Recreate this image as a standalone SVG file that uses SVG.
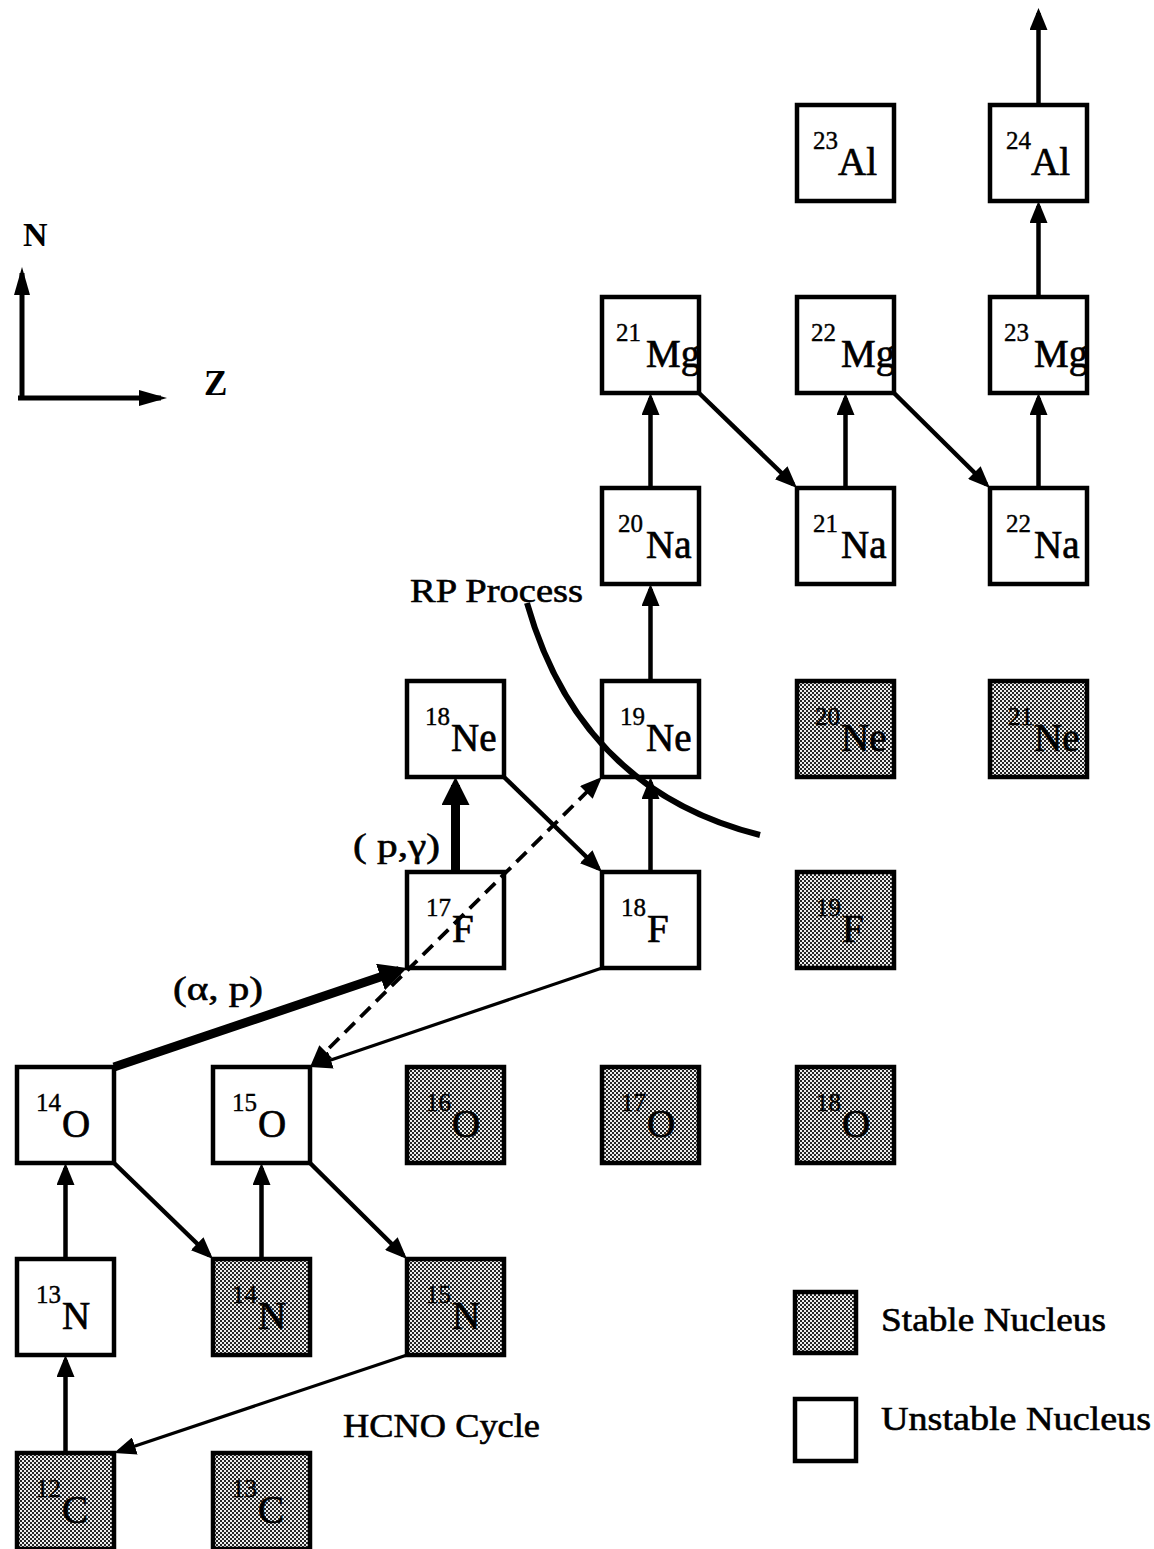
<svg xmlns="http://www.w3.org/2000/svg" width="1154" height="1549" viewBox="0 0 1154 1549">
<style>
.box{stroke:#000;stroke-width:4.5;fill:#fff}
.stable{fill:url(#dither)}
.sup{font-family:"Liberation Serif",serif;font-size:25px;fill:#000;stroke:#000;stroke-width:0.4}
.sym{font-family:"Liberation Serif",serif;font-size:39px;fill:#000;stroke:#000;stroke-width:0.7}
.lbl{font-family:"Liberation Serif",serif;font-size:34px;fill:#000;stroke:#000;stroke-width:0.6}
.ax{font-family:"Liberation Serif",serif;font-weight:bold;fill:#000}
.c{stroke:#000;stroke-width:4.5;fill:none;marker-end:url(#ah)}
.thin{stroke-width:3.2}
.thick{stroke-width:9;marker-end:url(#ahb)}
.dash{stroke-width:3.8;stroke-dasharray:14 8;marker-start:url(#ahd);marker-end:url(#ahd)}
.axis{stroke:#000;stroke-width:5;fill:none;marker-end:url(#aha)}
.rp{stroke:#000;stroke-width:6;fill:none}
</style>
<defs>
<pattern id="dither" width="4" height="4" patternUnits="userSpaceOnUse">
<rect width="4" height="4" fill="#eeeeee"/>
<rect width="2" height="2" fill="#262626"/>
<rect x="2" y="2" width="2" height="2" fill="#262626"/>
</pattern>
<marker id="ah" markerUnits="userSpaceOnUse" markerWidth="22" markerHeight="18" refX="17" refY="9" orient="auto"><path d="M0,0 L22,9 L0,18 z" fill="#000"/></marker>
<marker id="ahd" markerUnits="userSpaceOnUse" markerWidth="22" markerHeight="18" refX="17" refY="9" orient="auto-start-reverse"><path d="M0,0 L22,9 L0,18 z" fill="#000"/></marker>
<marker id="ahb" markerUnits="userSpaceOnUse" markerWidth="28" markerHeight="28" refX="20" refY="14" orient="auto"><path d="M0,0 L28,14 L0,28 z" fill="#000"/></marker>
<marker id="aha" markerUnits="userSpaceOnUse" markerWidth="28" markerHeight="16" refX="22" refY="8" orient="auto"><path d="M0,0 L28,8 L0,16 z" fill="#000"/></marker>
</defs>
<rect width="1154" height="1549" fill="#fff"/>

<g id="n-12C"><rect class="box stable" x="17" y="1453" width="97" height="96"/><text class="sup" x="36" y="1497">12</text><text class="sym" x="62" y="1523">C</text></g>
<g id="n-13C"><rect class="box stable" x="213" y="1453" width="97" height="96"/><text class="sup" x="232" y="1497">13</text><text class="sym" x="258" y="1523">C</text></g>
<g id="n-13N"><rect class="box" x="17" y="1259" width="97" height="96"/><text class="sup" x="36" y="1303">13</text><text class="sym" x="62" y="1329">N</text></g>
<g id="n-14N"><rect class="box stable" x="213" y="1259" width="97" height="96"/><text class="sup" x="232" y="1303">14</text><text class="sym" x="258" y="1329">N</text></g>
<g id="n-15N"><rect class="box stable" x="407" y="1259" width="97" height="96"/><text class="sup" x="426" y="1303">15</text><text class="sym" x="452" y="1329">N</text></g>
<g id="n-14O"><rect class="box" x="17" y="1067" width="97" height="96"/><text class="sup" x="36" y="1111">14</text><text class="sym" x="62" y="1137">O</text></g>
<g id="n-15O"><rect class="box" x="213" y="1067" width="97" height="96"/><text class="sup" x="232" y="1111">15</text><text class="sym" x="258" y="1137">O</text></g>
<g id="n-16O"><rect class="box stable" x="407" y="1067" width="97" height="96"/><text class="sup" x="426" y="1111">16</text><text class="sym" x="452" y="1137">O</text></g>
<g id="n-17O"><rect class="box stable" x="602" y="1067" width="97" height="96"/><text class="sup" x="621" y="1111">17</text><text class="sym" x="647" y="1137">O</text></g>
<g id="n-18O"><rect class="box stable" x="797" y="1067" width="97" height="96"/><text class="sup" x="816" y="1111">18</text><text class="sym" x="842" y="1137">O</text></g>
<g id="n-17F"><rect class="box" x="407" y="872" width="97" height="96"/><text class="sup" x="426" y="916">17</text><text class="sym" x="452" y="942">F</text></g>
<g id="n-18F"><rect class="box" x="602" y="872" width="97" height="96"/><text class="sup" x="621" y="916">18</text><text class="sym" x="647" y="942">F</text></g>
<g id="n-19F"><rect class="box stable" x="797" y="872" width="97" height="96"/><text class="sup" x="816" y="916">19</text><text class="sym" x="842" y="942">F</text></g>
<g id="n-18Ne"><rect class="box" x="407" y="681" width="97" height="96"/><text class="sup" x="425" y="725">18</text><text class="sym" x="451" y="751">Ne</text></g>
<g id="n-19Ne"><rect class="box" x="602" y="681" width="97" height="96"/><text class="sup" x="620" y="725">19</text><text class="sym" x="646" y="751">Ne</text></g>
<g id="n-20Ne"><rect class="box stable" x="797" y="681" width="97" height="96"/><text class="sup" x="815" y="725">20</text><text class="sym" x="841" y="751">Ne</text></g>
<g id="n-21Ne"><rect class="box stable" x="990" y="681" width="97" height="96"/><text class="sup" x="1008" y="725">21</text><text class="sym" x="1034" y="751">Ne</text></g>
<g id="n-20Na"><rect class="box" x="602" y="488" width="97" height="96"/><text class="sup" x="618" y="532">20</text><text class="sym" x="646" y="558">Na</text></g>
<g id="n-21Na"><rect class="box" x="797" y="488" width="97" height="96"/><text class="sup" x="813" y="532">21</text><text class="sym" x="841" y="558">Na</text></g>
<g id="n-22Na"><rect class="box" x="990" y="488" width="97" height="96"/><text class="sup" x="1006" y="532">22</text><text class="sym" x="1034" y="558">Na</text></g>
<g id="n-21Mg"><rect class="box" x="602" y="297" width="97" height="96"/><text class="sup" x="616" y="341">21</text><text class="sym" x="646" y="367">Mg</text></g>
<g id="n-22Mg"><rect class="box" x="797" y="297" width="97" height="96"/><text class="sup" x="811" y="341">22</text><text class="sym" x="841" y="367">Mg</text></g>
<g id="n-23Mg"><rect class="box" x="990" y="297" width="97" height="96"/><text class="sup" x="1004" y="341">23</text><text class="sym" x="1034" y="367">Mg</text></g>
<g id="n-23Al"><rect class="box" x="797" y="105" width="97" height="96"/><text class="sup" x="813" y="149">23</text><text class="sym" x="838" y="175">Al</text></g>
<g id="n-24Al"><rect class="box" x="990" y="105" width="97" height="96"/><text class="sup" x="1006" y="149">24</text><text class="sym" x="1031" y="175">Al</text></g>

<g id="connectors">
<line class="c" x1="65.5" y1="1453" x2="65.5" y2="1360"/>
<line class="c" x1="65.5" y1="1259" x2="65.5" y2="1168"/>
<line class="c" x1="114" y1="1163" x2="209.4" y2="1255.5"/>
<line class="c" x1="261.5" y1="1259" x2="261.5" y2="1168"/>
<line class="c" x1="310" y1="1163" x2="403.4" y2="1255.5"/>
<line class="c thin" x1="407" y1="1355" x2="118.7" y2="1451.4"/>
<line class="c thick" x1="114" y1="1067" x2="399.4" y2="970.6"/>
<line class="c thick" x1="455.5" y1="872" x2="455.5" y2="785"/>
<line class="c" x1="504" y1="777" x2="598.4" y2="868.5"/>
<line class="c" x1="650.5" y1="872" x2="650.5" y2="782"/>
<line class="c thin" x1="602" y1="968" x2="314.7" y2="1065.4"/>
<line class="c dash" x1="313.6" y1="1063.5" x2="598.4" y2="780.5"/>
<line class="c" x1="650.5" y1="681" x2="650.5" y2="589"/>
<line class="c" x1="650.5" y1="488" x2="650.5" y2="398"/>
<line class="c" x1="699" y1="393" x2="793.4" y2="484.5"/>
<line class="c" x1="845.5" y1="488" x2="845.5" y2="398"/>
<line class="c" x1="894" y1="393" x2="986.4" y2="484.5"/>
<line class="c" x1="1038.5" y1="488" x2="1038.5" y2="398"/>
<line class="c" x1="1038.5" y1="297" x2="1038.5" y2="206"/>
<line class="c" x1="1038.5" y1="105" x2="1038.5" y2="13"/>
</g>

<g id="axes">
<line class="axis" x1="22" y1="400" x2="22" y2="273"/>
<line class="axis" x1="18" y1="398" x2="161" y2="398"/>
<text class="ax" x="23" y="246" font-size="34">N</text>
<text class="ax" x="204" y="395" font-size="35">Z</text>
</g>

<g id="rp-process">
<path class="rp" d="M527,603 Q580,790 760,835"/>
<text class="lbl" x="410" y="602" textLength="173" lengthAdjust="spacingAndGlyphs">RP Process</text>
</g>

<g id="labels">
<text class="lbl" x="353" y="857" font-size="30" textLength="87" lengthAdjust="spacingAndGlyphs">( p,γ)</text>
<text class="lbl" x="173" y="1000" font-size="30" textLength="90" lengthAdjust="spacingAndGlyphs">(α, p)</text>
<text class="lbl" x="343" y="1437" font-size="33" textLength="197" lengthAdjust="spacingAndGlyphs">HCNO Cycle</text>
</g>

<g id="legend">
<rect class="box stable" x="795" y="1292" width="61" height="61"/>
<text class="lbl" x="881" y="1331" font-size="35" textLength="225" lengthAdjust="spacingAndGlyphs">Stable Nucleus</text>
<rect class="box" x="795" y="1399" width="61" height="62"/>
<text class="lbl" x="881" y="1430" font-size="35" textLength="270" lengthAdjust="spacingAndGlyphs">Unstable Nucleus</text>
</g>
</svg>
